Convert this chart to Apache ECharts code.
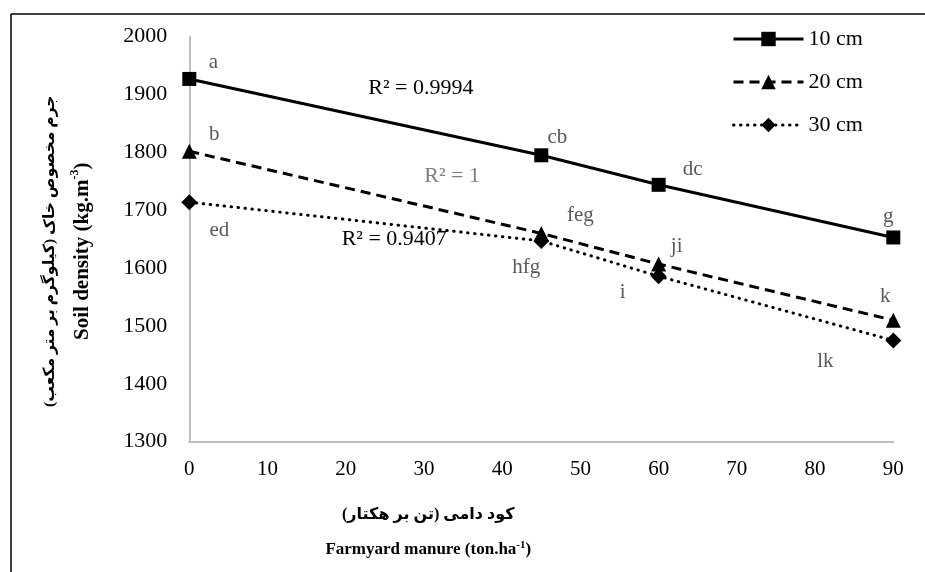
<!DOCTYPE html>
<html>
<head>
<meta charset="utf-8">
<script src="https://cdn.jsdelivr.net/npm/echarts@6/dist/echarts.min.js"></script>
<style>html,body{margin:0;padding:0;background:#fff}#c{width:925px;height:572px}</style>
</head>
<body>
<div id="c"></div>
<script>
// ---- data ----
const xValues = [0, 45, 60, 90];
const d10 = [1927, 1795, 1744, 1653];
const d20 = [1802, 1660, 1607, 1510];
const d30 = [1714, 1647, 1586, 1475];
const letters10 = ['a', 'cb', 'dc', 'g'];
const letters20 = ['b', 'feg', 'ji', 'k'];
const letters30 = ['ed', 'hfg', 'i', 'lk'];
const seriesNames = ['10 cm', '20 cm', '30 cm'];
const r2Texts = ['R² = 0.9994', 'R² = 1', 'R² = 0.9407'];
const yTicksMin = 1300, yTicksMax = 2000, yStep = 100;
const xTicksMin = 0, xTicksMax = 90, xStep = 10;

// ---- annotation placement (styling) ----
const off10 = [[24, -16], [16, -18], [34, -15], [-5, -21]];
const off20 = [[25, -17], [39, -18], [18, -18], [-8, -24]];
const off30 = [[30, 28], [-15, 27], [-36, 16], [-68, 21]];
const r2Anchors = [[29.6, 1911], [33.6, 1759], [26.2, 1650]];
const r2Colors = ['#000', '#7f7f7f', '#000'];

const SERIF = '"Liberation Serif", "Times New Roman", "DejaVu Serif", serif';
const FA = '"Liberation Serif", "DejaVu Sans", serif';
const RLE = '\u202B', PDF = '\u202C';

function mk(vals, letters, offs) {
  return xValues.map((x, i) => ({
    value: [x, vals[i]],
    label: { show: true, position: 'inside', offset: offs[i], formatter: letters[i] }
  }));
}

function r2Mark(i) {
  return {
    symbol: 'circle', symbolSize: 1, itemStyle: { color: 'rgba(0,0,0,0)' },
    data: [{ coord: r2Anchors[i] }],
    label: { show: true, position: 'inside', formatter: r2Texts[i], color: r2Colors[i], fontFamily: SERIF, fontSize: 22 }
  };
}

const labelStyle = { color: '#595959', fontFamily: SERIF, fontSize: 21 };

const chart = echarts.init(document.getElementById('c'), null, { renderer: 'canvas' });
chart.setOption({
  animation: false,
  backgroundColor: '#fff',
  grid: { left: 189.3, right: 31.7, top: 36.7, bottom: 130.3 },
  legend: {
    orient: 'vertical', left: 727, top: 23,
    itemWidth: 70, itemHeight: 18, itemGap: 21,
    lineStyle: { width: 3 },
    textStyle: { fontFamily: SERIF, fontSize: 22, color: '#000' },
    data: seriesNames
  },
  xAxis: {
    type: 'value', min: xTicksMin, max: xTicksMax, interval: xStep,
    axisLine: { lineStyle: { color: '#bfbfbf', width: 2 } },
    axisTick: { show: false }, splitLine: { show: false },
    axisLabel: { color: '#000', fontFamily: SERIF, fontSize: 21, margin: 17, formatter: v => String(v) },
    name: '{fa|' + RLE + 'کود دامی (تن بر هکتار)' + PDF + '}\n{en|Farmyard manure (ton.ha}{sup|-1}{en|)}',
    nameLocation: 'middle', nameGap: 48,
    nameTextStyle: {
      padding: [0, 226, 0, 0],
      rich: {
        fa: { fontFamily: FA, fontWeight: 'bold', fontSize: 16, color: '#000', lineHeight: 50 },
        en: { fontFamily: SERIF, fontWeight: 'bold', fontSize: 17, color: '#000', lineHeight: 20 },
        sup: { fontFamily: SERIF, fontWeight: 'bold', fontSize: 11, color: '#000', lineHeight: 20, verticalAlign: 'top' }
      }
    }
  },
  yAxis: {
    type: 'value', min: yTicksMin, max: yTicksMax, interval: yStep,
    axisLine: { show: true, lineStyle: { color: '#bfbfbf', width: 2 } },
    axisTick: { show: false }, splitLine: { show: false },
    axisLabel: { color: '#000', fontFamily: SERIF, fontSize: 22, margin: 22, formatter: v => String(v) },
    name: '{fa|' + RLE + 'جرم مخصوص خاک (کیلوگرم بر متر مکعب)' + PDF + '}\n{en|Soil density (kg.m}{sup|-3}{en|)}',
    nameLocation: 'middle', nameGap: 94, nameRotate: 90,
    nameTextStyle: {
      padding: [0, 24, 0, 0],
      rich: {
        fa: { fontFamily: FA, fontWeight: 'bold', fontSize: 15.5, color: '#000', lineHeight: 38 },
        en: { fontFamily: SERIF, fontWeight: 'bold', fontSize: 21, color: '#000', lineHeight: 26 },
        sup: { fontFamily: SERIF, fontWeight: 'bold', fontSize: 12, color: '#000', lineHeight: 26, verticalAlign: 'top' }
      }
    }
  },
  graphic: [
    { type: 'line', shape: { x1: 11, y1: 14, x2: 925, y2: 14 }, style: { stroke: '#000', lineWidth: 1.5 } },
    { type: 'line', shape: { x1: 11, y1: 14, x2: 11, y2: 572 }, style: { stroke: '#000', lineWidth: 1.5 } }
  ],
  series: [
    {
      name: seriesNames[0], type: 'line', data: mk(d10, letters10, off10),
      symbol: 'rect', symbolSize: 14, color: '#000',
      lineStyle: { color: '#000', width: 3, type: 'solid' },
      itemStyle: { color: '#000' }, label: labelStyle,
      markPoint: r2Mark(0)
    },
    {
      name: seriesNames[1], type: 'line', data: mk(d20, letters20, off20),
      symbol: 'triangle', symbolSize: 15, color: '#000',
      lineStyle: { color: '#000', width: 3, type: [10, 6] },
      itemStyle: { color: '#000' }, label: labelStyle,
      markPoint: r2Mark(1)
    },
    {
      name: seriesNames[2], type: 'line', data: mk(d30, letters30, off30),
      symbol: 'diamond', symbolSize: 16, color: '#000',
      lineStyle: { color: '#000', width: 3, type: [0.5, 6.5], cap: 'round' },
      itemStyle: { color: '#000' }, label: labelStyle,
      markPoint: r2Mark(2)
    }
  ]
});
</script>
</body>
</html>
